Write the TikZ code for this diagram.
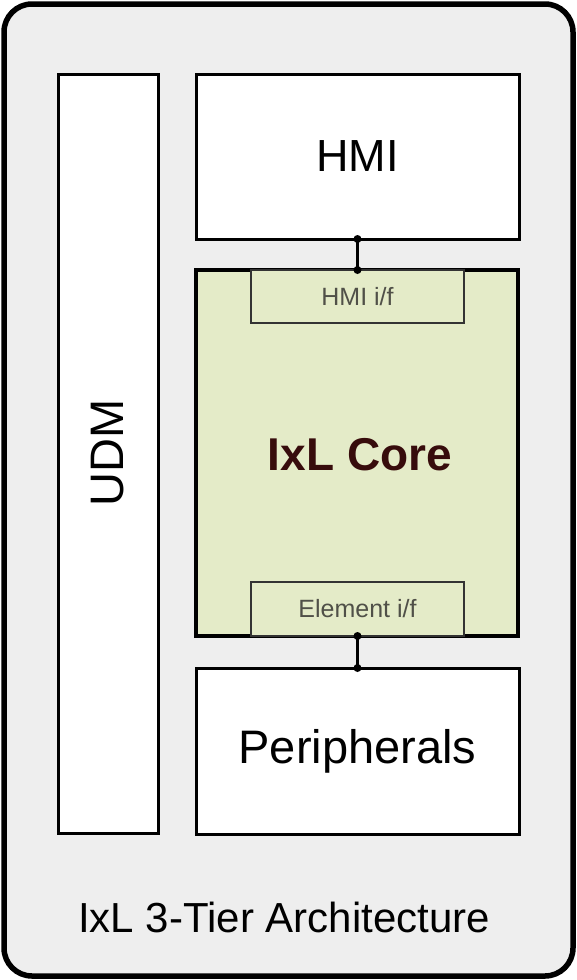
\documentclass[tikz,border=0pt]{standalone}
\usepackage{fontspec}
\setmainfont{Liberation Sans}
\definecolor{bgray}{RGB}{238,238,238}
\definecolor{coregreen}{RGB}{228,235,200}
\definecolor{coretext}{RGB}{55,12,12}
\definecolor{iftext}{RGB}{80,80,72}
\begin{document}
\begin{tikzpicture}[x=1pt,y=-1pt,
  box/.style={draw=black,line width=3pt,fill=white},
  ifbox/.style={draw=black!80,line width=1.5pt,fill=coregreen},
  dot/.style={circle,fill=black,inner sep=0pt,minimum size=8pt},
  conn/.style={line width=2.5pt}]
\useasboundingbox (0,0) rectangle (577,980);
\draw[line width=5.5pt,rounded corners=28pt,fill=bgray] (4,4) rectangle (573,976);
\draw[box] (58,74) rectangle (158,833);
\node[rotate=90,font=\fontsize{47}{47}\selectfont] (udm) at (108,453) {UDM};
\draw[box] (196,74) rectangle (519,239);
\node[font=\fontsize{45}{45}\selectfont] (hmi) at (357.5,156.5) {HMI};
\coordinate (hmib) at (357.5,239);
\draw[line width=4pt,fill=coregreen] (196,270) rectangle (518,636);
\draw[ifbox] (251,270) rectangle (464,323);
\node[font=\fontsize{25}{25}\selectfont,text=iftext] (hmiif) at (357.5,297) {HMI i/f};
\coordinate (hmiift) at (357.5,270);
\node[font=\bfseries\fontsize{46}{46}\selectfont,text=coretext] (core) at (360,455) {IxL Core};
\draw[ifbox] (251,582) rectangle (464,636);
\node[font=\fontsize{25}{25}\selectfont,text=iftext] (elif) at (357.5,609) {Element i/f};
\coordinate (elifb) at (357.5,636);
\draw[box] (196,668) rectangle (519,834);
\node[font=\fontsize{47}{47}\selectfont] (per) at (357.5,751) {Peripherals};
\coordinate (pert) at (357.5,668);
\draw[conn] (hmib) -- (hmiift);
\node[dot] at (hmib) {};
\node[dot] at (hmiift) {};
\draw[conn] (elifb) -- (pert);
\node[dot] at (elifb) {};
\node[dot] at (pert) {};
\node[font=\fontsize{42}{42}\selectfont] (title) at (284,917) {IxL 3-Tier Architecture};
\end{tikzpicture}
\end{document}
